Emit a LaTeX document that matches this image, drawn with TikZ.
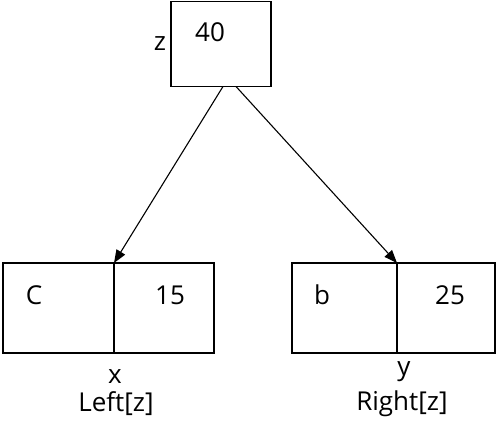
\documentclass[tikz,border=0pt]{standalone}
\usepackage{fontspec}
\setmainfont{Open Sans}
\usetikzlibrary{arrows.meta}
\begin{document}
\begin{tikzpicture}[x=1pt,y=-1pt,
  cell/.style={draw,line width=1.4pt,inner sep=0pt,outer sep=0pt},
  txt/.style={inner sep=0pt,font=\fontsize{26}{28}\selectfont},
  arr/.style={line width=1.1pt,-{Triangle[length=13pt,width=10pt]}}]
\useasboundingbox (0,0) rectangle (496,422);
% boxes
\node[cell,minimum width=100pt,minimum height=85pt] (zbox) at (221,44) {};
\node[cell,minimum width=111pt,minimum height=90pt] (xa) at (58.5,308) {};
\node[cell,minimum width=100pt,minimum height=90pt] (xb) at (164,308) {};
\node[cell,minimum width=105pt,minimum height=90pt] (ya) at (344.5,308) {};
\node[cell,minimum width=98pt,minimum height=90pt] (yb) at (446,308) {};
% texts
\node[txt] (t40) at (210,32) {40};
\node[txt] (tz) at (160,44) {z};
\node[txt] (tC) at (34,295) {C};
\node[txt] (t15) at (170,295) {15};
\node[txt] (tb) at (322,295) {b};
\node[txt] (t25) at (450,295) {25};
\node[txt] (tx) at (115,377) {x};
\node[txt] (tl) at (116,404) {Left[z]};
\node[txt] (ty) at (404,372) {y};
\node[txt] (tr) at (402,404) {Right[z]};
% arrows
\coordinate (s1) at (223,86.5);
\coordinate (s2) at (236,86.5);
\draw[arr] (s1) -- (xa.north east);
\draw[arr] (s2) -- (ya.north east);
\end{tikzpicture}
\end{document}
